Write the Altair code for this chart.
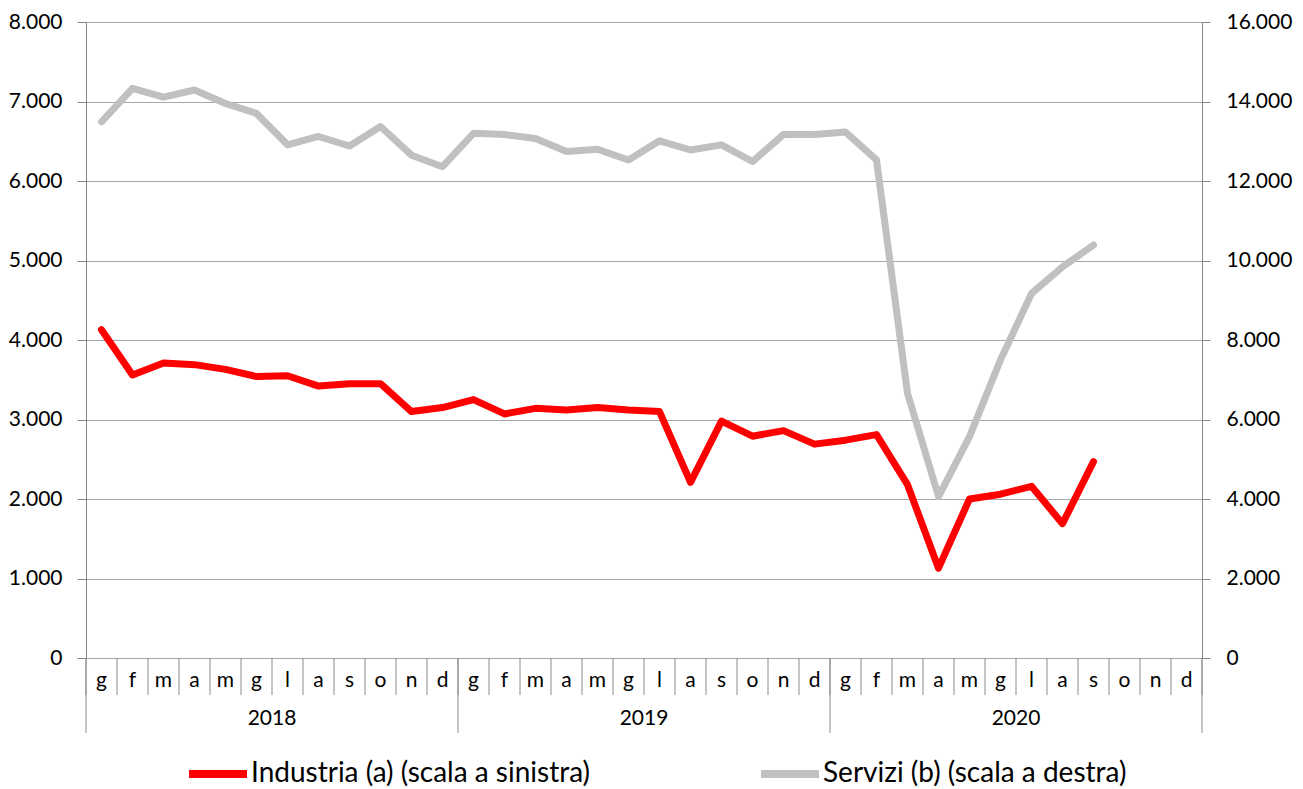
import altair as alt
import pandas as pd

mesi = ["g", "f", "m", "a", "m", "g", "l", "a", "s", "o", "n", "d"]
anni = ["2018", "2019", "2020"]
serie = ["Industria (a) (scala a sinistra)", "Servizi (b) (scala a destra)"]

industria = [4130, 3560, 3710, 3690, 3630, 3540, 3550, 3420, 3450, 3450, 3100, 3150,
             3250, 3070, 3140, 3120, 3150, 3120, 3100, 2210, 2980, 2790, 2860, 2690,
             2740, 2810, 2180, 1130, 2000, 2060, 2160, 1690, 2470]
servizi = [13490, 14330, 14110, 14290, 13950, 13700, 12910, 13120, 12880, 13370, 12650, 12360,
           13200, 13170, 13070, 12740, 12800, 12530, 13010, 12780, 12910, 12490, 13170, 13170,
           13230, 12530, 6660, 4060, 5570, 7500, 9170, 9840, 10390]

W, H = 1116, 636
FONT = "Lato"
n_mesi = len(mesi) * len(anni)

rows = []
for k, v in enumerate(industria):
    rows.append({"pos": k + 0.5, "valore": v, "serie": serie[0]})
for k, v in enumerate(servizi):
    rows.append({"pos": k + 0.5, "valore": v, "serie": serie[1]})
df = pd.DataFrame(rows)

df_mesi = pd.DataFrame({"pos": [k + 0.5 for k in range(n_mesi)],
                        "mese": [mesi[k % 12] for k in range(n_mesi)]})
df_sep = pd.DataFrame({"pos": list(range(n_mesi + 1))})
df_sep_anni = pd.DataFrame({"pos": [0, 12, 24, 36]})
df_anni = pd.DataFrame({"pos": [6, 18, 30], "anno": anni})

xscale = alt.Scale(domain=[0, n_mesi], nice=False, zero=False)
xenc = alt.X("pos:Q", scale=xscale, axis=None)
color = alt.Color(
    "serie:N",
    scale=alt.Scale(domain=serie, range=["#FF0000", "#C0C0C0"]),
    legend=alt.Legend(
        orient="none", legendX=99, legendY=719, direction="horizontal", title=None,
        symbolType="stroke", symbolSize=3364, symbolStrokeWidth=8,
        labelFont=FONT, labelFontSize=28, labelColor="black", labelLimit=1000,
        columnPadding=154, labelOffset=0, padding=0,
    ),
)
fmt = "replace(format(datum.value, ','), ',', '.')"

left = alt.Chart(df).transform_filter(alt.datum.serie == serie[0]).mark_line(
    strokeWidth=7, strokeJoin="round", strokeCap="round"
).encode(
    x=xenc,
    y=alt.Y("valore:Q", scale=alt.Scale(domain=[0, 8000], nice=False),
            axis=alt.Axis(orient="left", values=list(range(0, 8001, 1000)), labelExpr=fmt,
                          grid=True, gridColor="#A6A6A6", domainColor="#868686",
                          tickColor="#868686", tickSize=9, labelPadding=15,
                          labelFont=FONT, labelFontSize=21, labelColor="black", title=None)),
    color=color,
)

right = alt.Chart(df).transform_filter(alt.datum.serie == serie[1]).mark_line(
    strokeWidth=7, strokeJoin="round", strokeCap="round"
).encode(
    x=xenc,
    y=alt.Y("valore:Q", scale=alt.Scale(domain=[0, 16000], nice=False),
            axis=alt.Axis(orient="right", values=list(range(0, 16001, 2000)), labelExpr=fmt,
                          grid=False, domainColor="#868686",
                          tickColor="#868686", tickSize=8, labelPadding=16,
                          labelFont=FONT, labelFontSize=21, labelColor="black", title=None)),
    color=color,
)

sep = alt.Chart(df_sep).mark_rule(color="#8C8C8C", strokeWidth=1).encode(
    x=xenc, y=alt.value(H), y2=alt.value(H + 37))
sep_anni = alt.Chart(df_sep_anni).mark_rule(color="#8C8C8C", strokeWidth=1).encode(
    x=xenc, y=alt.value(H), y2=alt.value(H + 75))
lab_mesi = alt.Chart(df_mesi).mark_text(font=FONT, fontSize=21, color="black", baseline="middle").encode(
    x=xenc, y=alt.value(H + 23), text="mese:N")
lab_anni = alt.Chart(df_anni).mark_text(font=FONT, fontSize=21, color="black", baseline="middle").encode(
    x=xenc, y=alt.value(H + 61), text="anno:N")

chart = alt.layer(sep, sep_anni, lab_mesi, lab_anni, right, left).resolve_scale(
    y="independent"
).properties(
    width=W, height=H,
    autosize=alt.AutoSizeParams(type="none"),
    padding={"left": 78, "top": 14, "right": 93, "bottom": 130},
).configure_view(stroke=None)

chart.save("out.html", embed_options={"renderer": "svg", "actions": False})
